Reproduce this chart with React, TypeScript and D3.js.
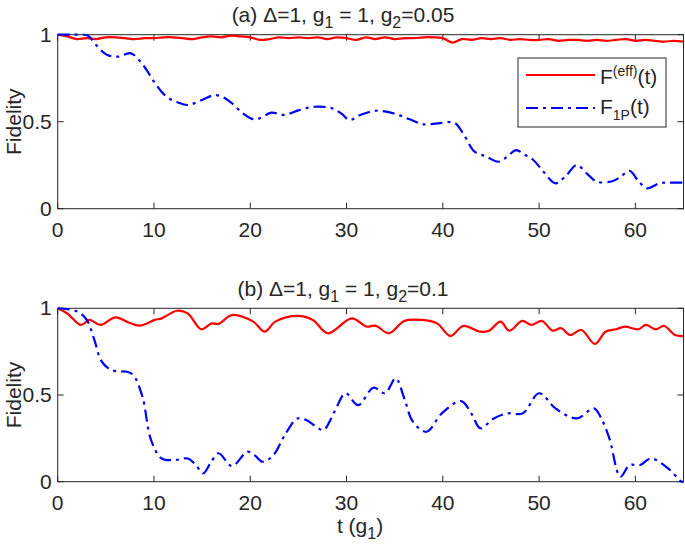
import React from "react";
import * as d3 from "d3";

// ---- data ----
const topRedT = [0,1,2,3,4,5,6,7,8,9,10,11,12,13,14,15,16,17,18,19,20,21,22,23,24,25,26,27,28,29,30,31,32,33,34,35,36,37,38,39,40,41,42,43,44,45,46,47,48,49,50,51,52,53,54,55,56,57,58,59,60,61,62,63,64,65];
const topRedF = [1.0,0.99,0.975,0.98,0.975,0.985,0.985,0.98,0.975,0.98,0.98,0.985,0.985,0.98,0.975,0.985,0.99,0.985,0.995,0.99,0.985,0.97,0.975,0.985,0.98,0.985,0.98,0.985,0.975,0.985,0.98,0.97,0.985,0.975,0.985,0.975,0.98,0.98,0.985,0.985,0.98,0.955,0.975,0.97,0.98,0.975,0.98,0.97,0.975,0.97,0.97,0.975,0.965,0.97,0.97,0.965,0.97,0.965,0.97,0.975,0.965,0.97,0.965,0.96,0.965,0.96];

const topBlueT = [0,1.5,3.1,4,5.1,6.3,7.6,9.0,10,11.3,12.5,13.5,15,16.3,17.2,18.1,19.2,20.3,21,22.2,23.5,25,26.7,28.5,29.5,30.3,31.5,33,34.9,36.5,38,39.5,41.2,42.1,43.3,44.5,45.8,46.8,47.6,48.5,49.4,50.5,51.7,52.8,53.9,55,56,57.6,58.5,59.4,60.3,61.2,62.5,63.5,65];
const topBlueF = [1,1.0,0.995,0.94,0.885,0.874,0.893,0.816,0.73,0.644,0.61,0.596,0.625,0.653,0.64,0.606,0.55,0.515,0.52,0.552,0.539,0.565,0.586,0.577,0.545,0.51,0.54,0.563,0.548,0.515,0.485,0.49,0.494,0.433,0.328,0.3,0.27,0.305,0.337,0.31,0.28,0.21,0.146,0.19,0.251,0.2,0.155,0.158,0.185,0.218,0.16,0.117,0.146,0.15,0.15];

const botRedT = [0,1,2.4,3.3,4.45,6.0,7.3,8.5,10.1,10.8,12.4,13.5,14.9,16.0,16.7,18.1,20.3,21.5,22.6,24.9,26.5,28.05,30.55,32.1,33,34.4,36,37.8,39.4,40.8,42.1,43.9,44.8,46,46.9,48.25,49.2,50.3,51.4,52.3,53.2,54.4,55.8,56.9,58,58.9,60.3,61.1,62.1,63,64.1,65];
const botRedF = [1,0.97,0.904,0.933,0.904,0.948,0.92,0.9,0.933,0.942,0.986,0.971,0.879,0.913,0.91,0.961,0.923,0.865,0.923,0.956,0.933,0.856,0.942,0.894,0.9,0.856,0.927,0.933,0.913,0.84,0.898,0.865,0.871,0.923,0.871,0.927,0.904,0.927,0.871,0.885,0.846,0.875,0.794,0.865,0.879,0.894,0.879,0.904,0.879,0.898,0.846,0.84];

const botBlueT = [0,1,2.1,3,3.8,4.5,5.4,6.3,7.2,7.85,8.8,9.7,10.8,12.2,13.5,14.3,15.1,15.9,16.7,18.1,19.7,20.5,21.3,22.4,23.6,24.9,25.8,26.8,27.6,28.8,29.9,31.2,32.8,34,35.1,36,36.9,38.3,39.9,41.9,43,43.9,45.3,46.7,48.3,50,51.7,53.9,55.7,56.5,57.3,58.45,59.4,60.5,61.6,63.4,64.8,65];
const botBlueF = [1,0.995,0.98,0.935,0.82,0.7,0.648,0.636,0.634,0.615,0.49,0.24,0.134,0.125,0.134,0.1,0.048,0.11,0.164,0.09,0.173,0.15,0.115,0.153,0.27,0.365,0.356,0.32,0.298,0.41,0.51,0.442,0.542,0.51,0.596,0.48,0.346,0.288,0.394,0.465,0.39,0.308,0.365,0.394,0.394,0.51,0.423,0.365,0.423,0.36,0.25,0.029,0.096,0.096,0.134,0.077,0.0,0.0];

const xTicks = [0,10,20,30,40,50,60];
const yTicks = [0,0.5,1];
const yTickLabels = ["0","0.5","1"];

const AX = "#262626";
const FONT = "Liberation Sans, Arial, Helvetica, sans-serif";
const FS = 21;

function zip(t: number[], f: number[]): [number, number][] {
  return t.map((v, i) => [v, f[i]]);
}

type PanelProps = {
  top: number;
  bottom: number;
  id: string;
  red: [number, number][];
  blue: [number, number][];
  title: React.ReactNode;
  legend?: boolean;
};

const X0 = 57.7, X1 = 683.5;

function Panel({ top, bottom, id, red, blue, title, legend }: PanelProps) {
  const x = d3.scaleLinear().domain([0, 65]).range([X0, X1]);
  const y = d3.scaleLinear().domain([0, 1]).range([bottom, top]);
  const line = d3.line<[number, number]>().x(d => x(d[0])).y(d => y(d[1])).curve(d3.curveCatmullRom.alpha(0.5));
  const tl = 6;
  return (
    <g>
      <defs>
        <clipPath id={id}>
          <rect x={X0} y={top - 2} width={X1 - X0} height={bottom - top + 4} />
        </clipPath>
      </defs>
      <rect x={X0} y={top} width={X1 - X0} height={bottom - top} fill="white" stroke={AX} strokeWidth={1} />
      {xTicks.map(t => (
        <g key={"x" + t}>
          <line x1={x(t)} x2={x(t)} y1={bottom} y2={bottom - tl} stroke={AX} />
          <line x1={x(t)} x2={x(t)} y1={top} y2={top + tl} stroke={AX} />
          <text x={x(t)} y={bottom + 28} textAnchor="middle" fontSize={FS} fill={AX} fontFamily={FONT}>{t}</text>
        </g>
      ))}
      {yTicks.map((t, i) => (
        <g key={"y" + t}>
          <line x1={X0} x2={X0 + tl} y1={y(t)} y2={y(t)} stroke={AX} />
          <line x1={X1} x2={X1 - tl} y1={y(t)} y2={y(t)} stroke={AX} />
          <text x={X0 - 6} y={y(t) + 7} textAnchor="end" fontSize={FS} fill={AX} fontFamily={FONT}>{yTickLabels[i]}</text>
        </g>
      ))}
      <text transform={`translate(${21},${(top + bottom) / 2}) rotate(-90)`} textAnchor="middle" fontSize={FS} fill={AX} fontFamily={FONT}>Fidelity</text>
      {title}
      <g clipPath={`url(#${id})`}>
        <path d={line(red) || ""} fill="none" stroke="#ff0000" strokeWidth={2.2} />
        <path d={line(blue) || ""} fill="none" stroke="#0000ff" strokeWidth={2.2} strokeDasharray="12,5,3,5" />
      </g>
      {legend && (
        <g fontFamily={FONT} fill={AX}>
          <rect x={518} y={58} width={148} height={69} fill="white" stroke={AX} strokeWidth={1} />
          <line x1={526} x2={595} y1={75} y2={75} stroke="#ff0000" strokeWidth={2.2} />
          <line x1={526} x2={595} y1={108} y2={108} stroke="#0000ff" strokeWidth={2.2} strokeDasharray="12,5,3,5" />
          <text x={600} y={84} fontSize={FS}>F<tspan fontSize={14} dy={-8}>(eff)</tspan><tspan dy={8}>(t)</tspan></text>
          <text x={600} y={114} fontSize={FS}>F<tspan fontSize={14} dy={6}>1P</tspan><tspan dy={-6}>(t)</tspan></text>
        </g>
      )}
    </g>
  );
}

function Title({ x, y, label, g2 }: { x: number; y: number; label: string; g2: string }) {
  return (
    <text x={x} y={y} textAnchor="middle" fontSize={FS} fill={AX} fontFamily={FONT}>
      {label} Δ=1, g<tspan fontSize={16} dy={6}>1</tspan><tspan dy={-6}> = 1, g</tspan><tspan fontSize={16} dy={6}>2</tspan><tspan dy={-6}>={g2}</tspan>
    </text>
  );
}

export default function App() {
  return (
    <svg width={685} height={547} style={{ position: "absolute", left: 0, top: 0, background: "white" }}>
      <rect width={685} height={547} fill="white" />
      <Panel top={34.7} bottom={208.7} id="clipA" red={zip(topRedT, topRedF)} blue={zip(topBlueT, topBlueF)}
        title={<Title x={343} y={22} label="(a)" g2="0.05" />} legend />
      <Panel top={308.3} bottom={481.7} id="clipB" red={zip(botRedT, botRedF)} blue={zip(botBlueT, botBlueF)}
        title={<Title x={343} y={296} label="(b)" g2="0.1" />} />
      <text x={360} y={533} textAnchor="middle" fontSize={FS} fill={AX} fontFamily={FONT}>
        t (g<tspan fontSize={16} dy={6}>1</tspan><tspan dy={-6}>)</tspan>
      </text>
    </svg>
  );
}
